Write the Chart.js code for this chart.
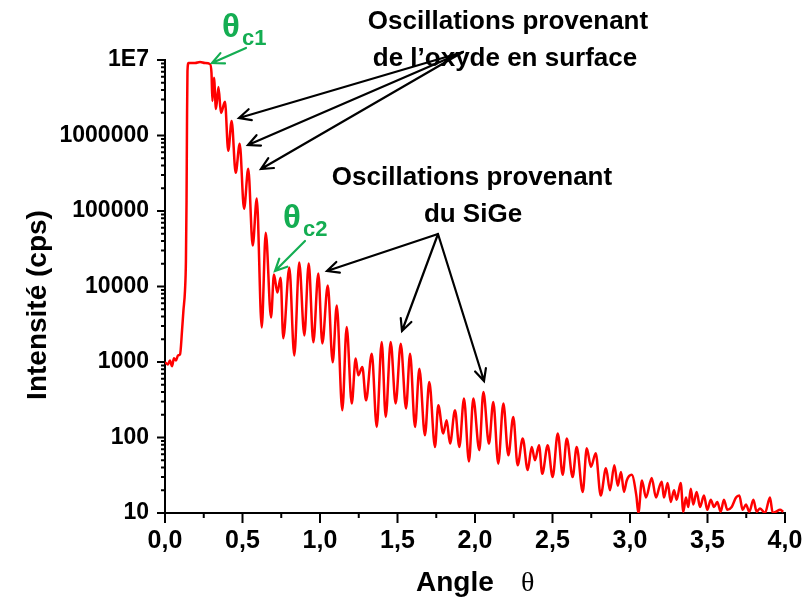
<!DOCTYPE html>
<html lang="fr">
<head>
<meta charset="utf-8">
<title>Réflectivité X</title>
<script src="https://cdn.jsdelivr.net/npm/chart.js@4.4.1/dist/chart.umd.min.js"></script>
<style>
    html, body { margin: 0; padding: 0; background: #fff; }
    canvas { display: block; }
</style>
</head>
<body>
<canvas id="xrrChart" width="802" height="605"></canvas>
<script>
// Données (angle en degrés, intensité en cps)
const angles = [
    0.0, 0.019, 0.032, 0.045, 0.058, 0.071, 0.084, 0.097, 0.110, 0.119,
    0.129, 0.135, 0.139, 0.142, 0.145, 0.152, 0.194, 0.226, 0.258, 0.290,
    0.300, 0.306, 0.316, 0.329, 0.345, 0.361, 0.387, 0.408, 0.430, 0.456,
    0.482, 0.510, 0.537, 0.566, 0.592, 0.624, 0.650, 0.684, 0.703, 0.725,
    0.746, 0.763, 0.802, 0.834, 0.866, 0.899, 0.927, 0.957, 0.989, 1.015,
    1.050, 1.082, 1.108, 1.144, 1.172, 1.205, 1.230, 1.247, 1.273, 1.297,
    1.334, 1.366, 1.398, 1.424, 1.456, 1.488, 1.521, 1.555, 1.581, 1.613,
    1.641, 1.677, 1.705, 1.742, 1.763, 1.795, 1.817, 1.839, 1.871, 1.899,
    1.929, 1.961, 1.989, 2.028, 2.054, 2.090, 2.118, 2.150, 2.183, 2.215,
    2.247, 2.275, 2.308, 2.340, 2.366, 2.387, 2.413, 2.434, 2.469, 2.501,
    2.534, 2.566, 2.592, 2.630, 2.656, 2.695, 2.721, 2.748, 2.779, 2.811,
    2.845, 2.871, 2.899, 2.921, 2.942, 2.961, 2.979, 3.011, 3.041, 3.054,
    3.077, 3.103, 3.140, 3.168, 3.189, 3.205, 3.219, 3.243, 3.263, 3.284,
    3.301, 3.327, 3.344, 3.361, 3.376, 3.392, 3.408, 3.430, 3.452, 3.477,
    3.499, 3.521, 3.542, 3.563, 3.585, 3.606, 3.628, 3.656, 3.684, 3.705,
    3.727, 3.748, 3.770, 3.796, 3.817, 3.839, 3.871, 3.903, 3.921, 3.942,
    3.968, 3.989
];
const intensite = [
    990, 930, 1050, 880, 1120, 1050, 1220, 1260, 2620, 4820,
    8850, 22000, 137000, 1560000, 7150000, 9100000, 9100000, 9400000, 9100000, 8850000,
    6700000, 2870000, 5800000, 2250000, 4400000, 1990000, 2790000, 627000, 1560000, 321000,
    776000, 107000, 362000, 34800, 146000, 2870, 51700, 3890, 14400, 8330,
    13100, 2060, 17800, 1220, 20800, 2250, 20100, 1820, 14900, 1760,
    10300, 990, 5610, 230, 2900, 282, 1110, 667, 858, 311,
    1290, 138, 1840, 187, 1840, 282, 1750, 242, 1290, 138,
    817, 107, 543, 75, 267, 113, 169, 83, 230, 75,
    328, 48, 328, 68, 401, 83, 296, 45, 282, 58,
    187, 43, 97, 37, 75, 50, 79, 33, 79, 30,
    113, 32, 97, 30, 75, 19, 72, 41, 62, 17,
    39, 20, 43, 23, 35, 19, 27, 32, 17, 10,
    27, 16, 29, 16, 22, 26, 16, 25, 14, 20,
    15, 25, 10.4, 16, 12, 21, 13, 19, 12, 17,
    11, 15, 12, 14, 10.4, 15, 11, 12, 16, 17,
    11, 13, 10.4, 15, 10.4, 11.5, 10, 16, 10, 10.4,
    11, 10.4
];

// Graduations
const yTickValues = [10, 100, 1000, 10000, 100000, 1000000, 10000000];
const yTickLabels = ['10', '100', '1000', '10000', '100000', '1000000', '1E7'];
const xTickValues = [0, 0.5, 1, 1.5, 2, 2.5, 3, 3.5, 4];

const VERT = '#14ad52';
const FONT = '"Liberation Sans", Arial, sans-serif';

function fleche(ctx, x1, y1, x2, y2, couleur) {
    const a = Math.atan2(y2 - y1, x2 - x1);
    const L = 13, ang = 0.45;
    ctx.save();
    ctx.strokeStyle = couleur;
    ctx.lineWidth = 2.2;
    ctx.lineCap = 'round';
    ctx.beginPath();
    ctx.moveTo(x1, y1);
    ctx.lineTo(x2, y2);
    ctx.moveTo(x2 - L * Math.cos(a - ang), y2 - L * Math.sin(a - ang));
    ctx.lineTo(x2, y2);
    ctx.lineTo(x2 - L * Math.cos(a + ang), y2 - L * Math.sin(a + ang));
    ctx.stroke();
    ctx.restore();
}

function thetaC(ctx, x, y, indice) {
    ctx.fillStyle = VERT;
    ctx.textAlign = 'left';
    ctx.textBaseline = 'alphabetic';
    ctx.font = 'bold 33px ' + FONT;
    ctx.fillText('θ', x, y);
    ctx.font = 'bold 22px ' + FONT;
    ctx.fillText(indice, x + 20, y + 8);
}

// Graduations, titres et annotations
const decor = {
    id: 'decor',
    afterDraw(chart) {
        const ctx = chart.ctx;
        const xs = chart.scales.x, ys = chart.scales.y;
        const area = chart.chartArea;
        ctx.save();
        ctx.strokeStyle = '#000';
        ctx.lineWidth = 2;
        ctx.beginPath();
        xTickValues.forEach(v => {
            const px = xs.getPixelForValue(v);
            ctx.moveTo(px, area.bottom); ctx.lineTo(px, area.bottom + 10);
            if (v < 4) {
                const pm = xs.getPixelForValue(v + 0.25);
                ctx.moveTo(pm, area.bottom); ctx.lineTo(pm, area.bottom + 5);
            }
        });
        yTickValues.forEach((v, i) => {
            const py = ys.getPixelForValue(v);
            ctx.moveTo(area.left, py); ctx.lineTo(area.left - 8, py);
            if (i < yTickValues.length - 1) {
                for (let k = 2; k <= 9; k++) {
                    const pm = ys.getPixelForValue(v * k);
                    ctx.moveTo(area.left, pm); ctx.lineTo(area.left - 4, pm);
                }
            }
        });
        ctx.stroke();

        // Titre de l'axe Y
        ctx.save();
        ctx.translate(38, 305);
        ctx.rotate(-Math.PI / 2);
        ctx.fillStyle = '#000';
        ctx.font = 'bold 28px ' + FONT;
        ctx.textAlign = 'center';
        ctx.textBaseline = 'middle';
        ctx.fillText('Intensité (cps)', 0, 0);
        ctx.restore();

        // Titre de l'axe X
        ctx.fillStyle = '#000';
        ctx.textBaseline = 'alphabetic';
        ctx.textAlign = 'left';
        ctx.font = 'bold 28px ' + FONT;
        ctx.fillText('Angle', 416, 591);
        ctx.font = '28px "Liberation Serif", serif';
        ctx.fillText('θ', 521, 591);

        // Textes d'annotation
        ctx.textAlign = 'center';
        ctx.font = 'bold 26px ' + FONT;
        ctx.fillText('Oscillations provenant', 508, 29);
        ctx.fillText('de l\u2019oxyde en surface', 505, 66);
        ctx.fillText('Oscillations provenant', 472, 185);
        ctx.fillText('du SiGe', 473, 222);

        thetaC(ctx, 222, 37, 'c1');
        thetaC(ctx, 283, 228, 'c2');

        // Flèches
        fleche(ctx, 246, 48, 212, 63, VERT);
        fleche(ctx, 305, 241, 275, 271, VERT);
        [[239, 118], [248, 145], [261, 169]].forEach(p => fleche(ctx, 463, 52, p[0], p[1], '#000'));
        [[327, 271], [402, 331], [484, 381]].forEach(p => fleche(ctx, 438, 234, p[0], p[1], '#000'));
        ctx.restore();
    }
};

const ctx = document.getElementById('xrrChart').getContext('2d');
new Chart(ctx, {
    type: 'line',
    data: {
        datasets: [{
            data: angles.map((a, i) => ({ x: a, y: intensite[i] })),
            borderColor: '#ff0000',
            borderWidth: 2.5,
            pointRadius: 0,
            cubicInterpolationMode: 'monotone',
            fill: false
        }]
    },
    options: {
        responsive: false,
        animation: false,
        devicePixelRatio: 1,
        layout: { padding: { top: 60, right: 17, left: 0, bottom: 0 } },
        plugins: {
            legend: { display: false },
            tooltip: { enabled: false }
        },
        scales: {
            x: {
                type: 'linear',
                min: 0,
                max: 4,
                afterFit: s => { s.height = 92; s.paddingLeft = 0; s.paddingRight = 0; },
                afterBuildTicks: s => { s.ticks = xTickValues.map(v => ({ value: v })); },
                grid: { display: false, drawTicks: false },
                border: { display: true, color: '#000', width: 2 },
                ticks: {
                    color: '#000',
                    padding: 13,
                    maxRotation: 0,
                    font: { family: FONT, size: 25, weight: 'bold' },
                    callback: v => v.toFixed(1).replace('.', ',')
                }
            },
            y: {
                type: 'logarithmic',
                min: 10,
                max: 10000000,
                afterFit: s => { s.width = 165; s.paddingTop = 0; s.paddingBottom = 0; },
                afterBuildTicks: s => { s.ticks = yTickValues.map(v => ({ value: v })); },
                grid: { display: false, drawTicks: false },
                border: { display: true, color: '#000', width: 2 },
                ticks: {
                    color: '#000',
                    padding: 16,
                    font: { family: FONT, size: 23, weight: 'bold' },
                    callback: (v, i) => yTickLabels[yTickValues.indexOf(v)] || ''
                }
            }
        }
    },
    plugins: [decor]
});
</script>
</body>
</html>
